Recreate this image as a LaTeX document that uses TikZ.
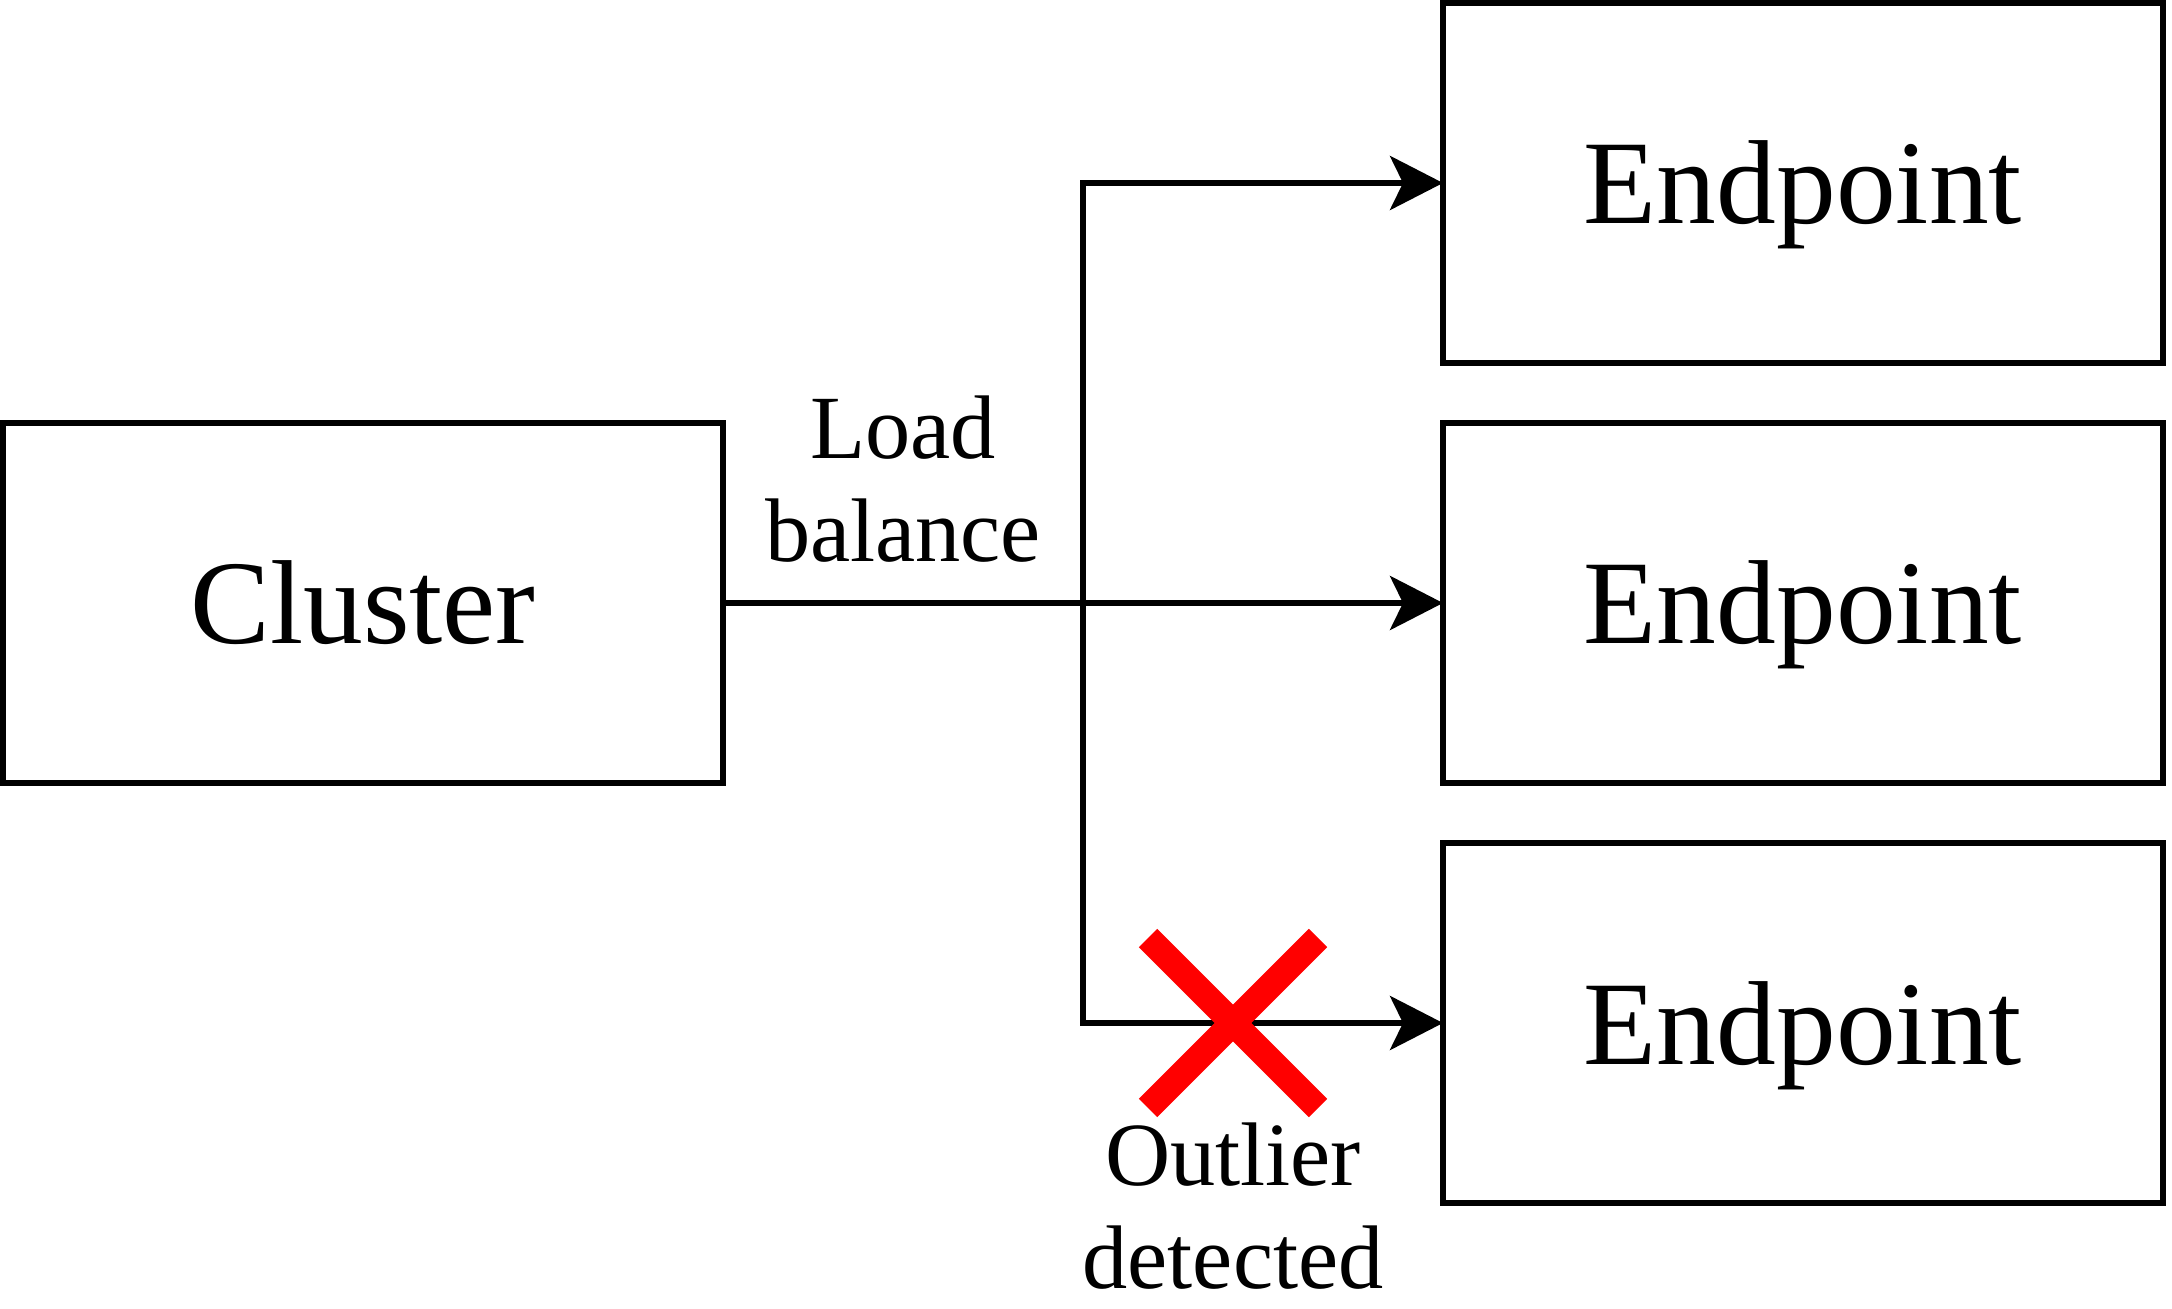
\documentclass[tikz,border=0pt]{standalone}
\usepackage{fontspec}
\setmainfont{Liberation Serif}
\usetikzlibrary{positioning, calc, arrows.meta, shapes.misc}
\tikzset{>={Stealth[length=0.53cm, width=0.54cm, inset=0.13cm]}}
\tikzset{service box/.style={draw, line width=0.06cm, minimum width=7.2cm,
    minimum height=3.6cm, outer sep=0pt, text height=0.82cm, text depth=0cm,
    font=\fontsize{34}{40}\selectfont}}
\tikzset{flow label/.style={align=center, inner sep=0pt,
    font=\fontsize{25.7}{29.2}\selectfont}}
\tikzset{failed/.style={cross out, draw=red, line width=0.26cm,
    minimum size=1.7cm, inner sep=0pt, outer sep=0pt}}

\begin{document}
\begin{tikzpicture}[line width=0.06cm]
    \useasboundingbox (0,0) rectangle (21.72,13.08);

    \node[service box] (cluster) at (3.63,7.05) {Cluster};

    \node[service box, right=7.2cm of cluster] (ep-mid) {Endpoint};
    \node[service box, above=0.6cm of ep-mid] (ep-top) {Endpoint};
    \node[service box, below=0.6cm of ep-mid] (ep-bot) {Endpoint};

    \coordinate (split) at ($(cluster.east)!0.5!(ep-mid.west)$);

    \draw[->] (cluster.east) to (ep-mid.west);
    \draw[->] (split) |- (ep-top.west);
    \draw[->] (split) |- (ep-bot.west);

    \node[flow label, above=0.38cm] (lb) at ($(cluster.east)!0.5!(split)$) {Load\\balance};

    \node[failed] (xmark) at ($(split |- ep-bot.west)+(1.5,0)$) {};
    \node[flow label, below=0.12cm of xmark] (outlier) {Outlier\\detected};
\end{tikzpicture}
\end{document}
